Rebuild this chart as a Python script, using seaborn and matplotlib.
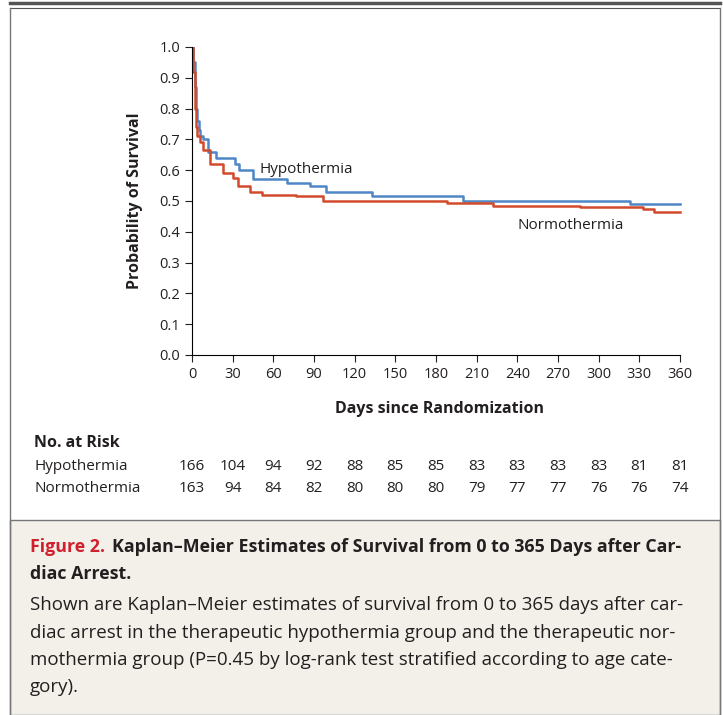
import pandas as pd
import seaborn as sns
import matplotlib.pyplot as plt
from matplotlib.patches import Rectangle
from matplotlib.lines import Line2D

# Step curves (day, survival)
hypo_days = [0, 1, 2, 3, 4, 5, 6, 8, 12, 18, 32, 35, 45, 70, 87, 99, 133, 200, 323, 360]
hypo_surv = [1.0, 0.95, 0.87, 0.80, 0.76, 0.73, 0.71, 0.70, 0.66, 0.64, 0.62, 0.60, 0.57, 0.56, 0.55, 0.53, 0.515, 0.50, 0.49, 0.49]
normo_days = [0, 1, 2, 3, 4, 6, 8, 13, 23, 30, 34, 43, 52, 77, 97, 188, 222, 286, 333, 341, 360]
normo_surv = [1.0, 0.92, 0.80, 0.74, 0.71, 0.69, 0.665, 0.62, 0.59, 0.575, 0.55, 0.53, 0.52, 0.515, 0.50, 0.495, 0.485, 0.48, 0.475, 0.465, 0.465]

risk_days = list(range(0, 361, 30))
hypo_risk = [166, 104, 94, 92, 88, 85, 85, 83, 83, 83, 83, 81, 81]
normo_risk = [163, 94, 84, 82, 80, 80, 80, 79, 77, 77, 76, 76, 74]

df = pd.concat([
    pd.DataFrame({'day': hypo_days, 'surv': hypo_surv, 'group': 'Hypothermia'}),
    pd.DataFrame({'day': normo_days, 'surv': normo_surv, 'group': 'Normothermia'}),
])

plt.rcParams['font.family'] = ['Open Sans', 'DejaVu Sans']
W, H = 723, 715
fig = plt.figure(figsize=(W / 100, H / 100), dpi=100)

def fx(px):
    return px / W

def fy(py):
    return 1 - py / H

txt = '#231f20'
# frame
fig.add_artist(Line2D([fx(10), fx(720)], [fy(3), fy(3)], color='#555555', lw=2.5))
fig.add_artist(Line2D([fx(10), fx(720)], [fy(8), fy(8)], color='#555555', lw=0.8))
fig.add_artist(Line2D([fx(10), fx(10)], [fy(8), 0], color='#777777', lw=1))
fig.add_artist(Line2D([fx(720), fx(720)], [fy(8), 0], color='#777777', lw=1))
fig.add_artist(Rectangle((fx(10), 0), fx(710), fy(520), facecolor='#f3f0ea',
                         edgecolor='#777777', lw=1))

pxday = 488 / 360
ax = fig.add_axes([fx(192), fy(355), fx(488 * 365 / 360), 308 / H])
sns.lineplot(data=df, x='day', y='surv', hue='group', drawstyle='steps-post',
             palette={'Hypothermia': '#4f86c6', 'Normothermia': '#d24a2c'},
             lw=1.8, legend=False, ax=ax, estimator=None)
ax.set_xlim(0, 365)
ax.set_ylim(0, 1.0)
ax.set_xticks(risk_days)
ax.set_yticks([i / 10 for i in range(11)])
ax.set_yticklabels([f'{i / 10:.1f}' for i in range(11)])
for s in ['top', 'right']:
    ax.spines[s].set_visible(False)
ax.spines['left'].set_bounds(0, 1.0)
ax.spines['bottom'].set_bounds(0, 360)
ax.tick_params(labelsize=10.5, colors=txt, direction='out', length=5)
ax.set_xlabel('Days since Randomization', fontsize=11.5, fontweight='bold', color=txt, labelpad=14)
ax.set_ylabel('Probability of Survival', fontsize=11.5, fontweight='bold', color=txt, labelpad=12)
ax.patch.set_alpha(0)
ax.text(50, 0.592, 'Hypothermia', fontsize=11, color=txt)
ax.text(240, 0.41, 'Normothermia', fontsize=11, color=txt)

# risk table
fig.text(fx(34), fy(443), 'No. at Risk', fontsize=11.5, fontweight='bold', color=txt, va='center')
fig.text(fx(34), fy(466), 'Hypothermia', fontsize=11, color=txt, va='center')
fig.text(fx(34), fy(488), 'Normothermia', fontsize=11, color=txt, va='center')
for d, h, n in zip(risk_days, hypo_risk, normo_risk):
    x = fx(192 + d * pxday)
    fig.text(x, fy(466), str(h), fontsize=11, color=txt, ha='center', va='center')
    fig.text(x, fy(488), str(n), fontsize=11, color=txt, ha='center', va='center')

# caption
fig.text(fx(30), fy(547), 'Figure 2.', fontsize=12.8, fontweight='bold', color='#d0202e', va='center')
fig.text(fx(112), fy(547), 'Kaplan\u2013Meier Estimates of Survival from 0 to 365 Days after Car-',
         fontsize=12.8, fontweight='bold', color=txt, va='center')
fig.text(fx(30), fy(574), 'diac Arrest.', fontsize=12.8, fontweight='bold', color=txt, va='center')
body = ['Shown are Kaplan\u2013Meier estimates of survival from 0 to 365 days after car-',
        'diac arrest in the therapeutic hypothermia group and the therapeutic nor-',
        'mothermia group (P=0.45 by log-rank test stratified according to age cate-',
        'gory).']
for i, line in enumerate(body):
    fig.text(fx(30), fy(605 + i * 27.5), line, fontsize=13.5, color=txt, va='center')

fig.savefig('out.png', dpi=100)
